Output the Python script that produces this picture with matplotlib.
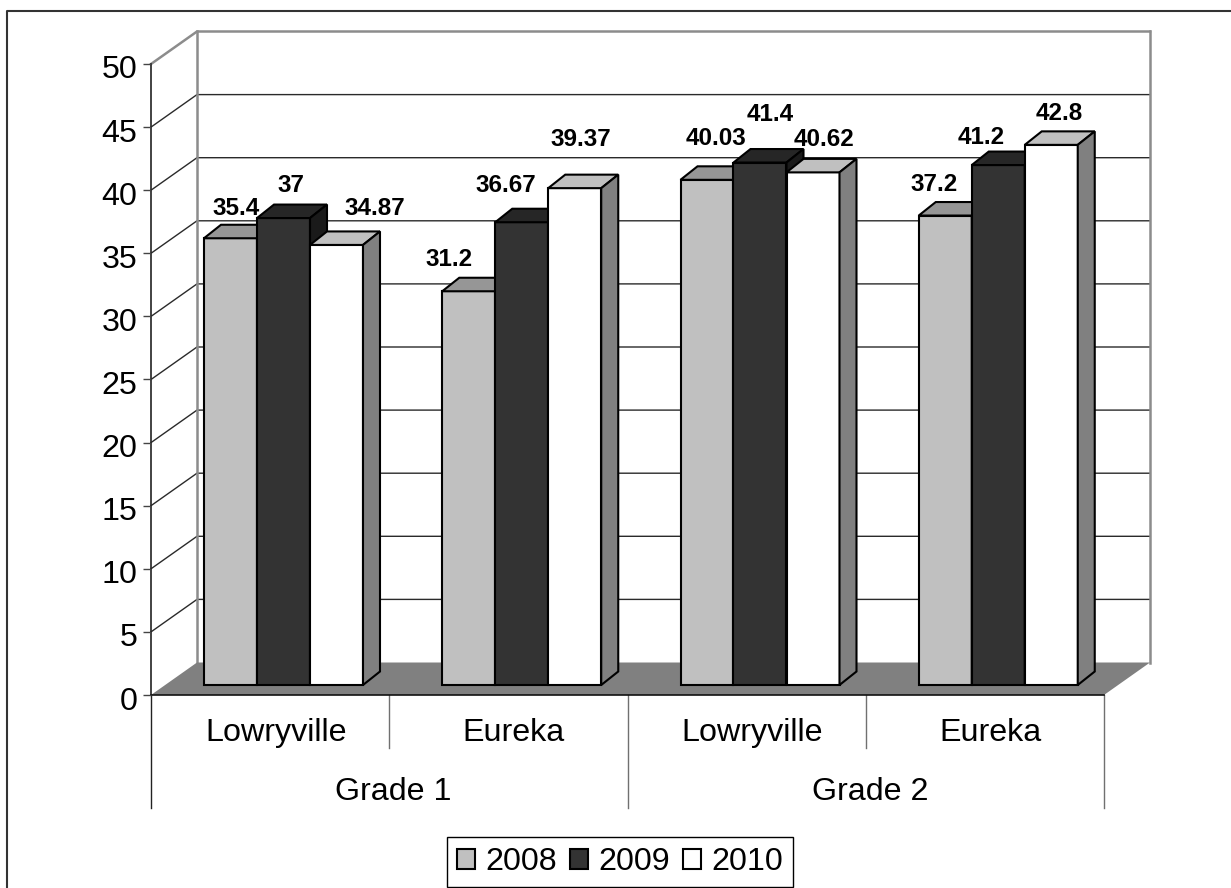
import matplotlib
matplotlib.use('Agg')
import matplotlib.pyplot as plt
from matplotlib.lines import Line2D
from matplotlib.patches import Patch
from matplotlib.transforms import Affine2D

plt.rcParams['font.family'] = ['Liberation Sans', 'DejaVu Sans']

schools = ['Lowryville', 'Eureka', 'Lowryville', 'Eureka']
grades = ['Grade 1', 'Grade 2']
years = ['2008', '2009', '2010']
v2008 = [35.4, 31.2, 40.03, 37.2]
v2009 = [37, 36.67, 41.4, 41.2]
v2010 = [34.87, 39.37, 40.62, 42.8]
yticks = [0, 5, 10, 15, 20, 25, 30, 35, 40, 45, 50]

# front, top, side colors for each series
colors = {
    '2008': ('#c0c0c0', '#969696', '#808080'),
    '2009': ('#333333', '#262626', '#1a1a1a'),
    '2010': ('#ffffff', '#c0c0c0', '#808080'),
}
# label shift from the bar top, pixels, same order as the values
label_shift = {
    '2008': [(-3, 30), (-28, 32), (1, 41), (-20, 31)],
    '2009': [(-1, 33), (-24, 37), (2, 48), (-26, 28)],
    '2010': [(30, 36), (-2, 49), (3, 33), (0, 31)],
}

W, H = 1231, 888
fig = plt.figure(figsize=(W / 100, H / 100), dpi=100)
fig.patch.set_facecolor('white')

# frame around the chart, runs off the picture on the right and at the bottom
fig.add_artist(Line2D([7 / W, 7 / W, 1], [0, 1 - 11 / H, 1 - 11 / H], transform=fig.transFigure,
                      color='#333333', lw=1.5))

# axes is the front plane of the 3d box
x0, x1, y0, y1 = 151, 1104, 695, 64
ax = fig.add_axes([x0 / W, 1 - y0 / H, (x1 - x0) / W, (y0 - y1) / H])
ax.set_xlim(0, 4)
ax.set_ylim(0, 50)
ax.patch.set_alpha(0)
px = 4 / (x1 - x0)
py = 50 / (y0 - y1)

# depth of the box and of the bars, in data units
box_dx, box_dy = 46 * px, 32.5 * py
bar_dx, bar_dy = 17 * px, 13.5 * py
bar_w = 53 * px
base = 10 * py

# floor
ax.fill([0, 4, 4 + box_dx, box_dx], [0, 0, box_dy, box_dy], color='#808080', lw=0, clip_on=False, zorder=1)

# walls and grid
for t in yticks[1:]:
    c, lw = ('#8c8c8c', 1.8) if t == 50 else ('#2a2a2a', 1.0)
    ax.plot([0, box_dx, 4 + box_dx], [t, t + box_dy, t + box_dy], color=c, lw=lw, clip_on=False, zorder=0.5)
ax.plot([box_dx, box_dx], [box_dy, 50 + box_dy], color='#8c8c8c', lw=1.8, clip_on=False, zorder=0.6)
ax.plot([4 + box_dx, 4 + box_dx], [box_dy, 50 + box_dy], color='#8c8c8c', lw=1.8, clip_on=False, zorder=0.6)

# bars, left to right so each one hides the side of the one before
series = {'2008': v2008, '2009': v2009, '2010': v2010}
z = 2
for g in range(len(schools)):
    start = g + bar_w
    for j, year in enumerate(years):
        val = series[year][g]
        front, top, side = colors[year]
        l = start + j * bar_w
        r = l + bar_w
        style = dict(ec='black', lw=1.5, clip_on=False, joinstyle='miter', zorder=z)
        ax.fill([l, r, r, l], [base, base, base + val, base + val], fc=front, **style)
        ax.fill([l, r, r + bar_dx, l + bar_dx],
                [base + val, base + val, base + val + bar_dy, base + val + bar_dy], fc=top, **style)
        ax.fill([r, r + bar_dx, r + bar_dx, r],
                [base, base + bar_dy, base + val + bar_dy, base + val], fc=side, **style)
        z += 0.1
        sx, sy = label_shift[year][g]
        ax.annotate(str(val), ((l + r) / 2 + bar_dx / 2, base + val), xytext=(sx, sy),
                    textcoords='offset pixels', ha='center', va='center',
                    fontsize=17.5, fontweight='bold', color='black', zorder=20)

# value axis
ax.set_yticks(yticks)
ax.set_yticklabels([str(t) for t in yticks])
ax.tick_params(axis='y', length=5.8, width=1.0, labelsize=23.2, pad=4, color='#444444')
for lab in ax.get_yticklabels():
    lab.set_transform(lab.get_transform() + Affine2D().translate(0, -3))
ax.set_xticks([])
for s in ['top', 'right']:
    ax.spines[s].set_visible(False)
ax.spines['left'].set_color('#222222')
ax.spines['bottom'].set_color('#111111')
ax.spines['left'].set_linewidth(1.2)
ax.spines['bottom'].set_linewidth(1.2)
ax.spines['left'].set_zorder(1.5)
ax.spines['bottom'].set_zorder(1.5)

# two level category axis
trans = ax.get_xaxis_transform()
low1 = -53 / (y0 - y1)
low2 = -113 / (y0 - y1)
for i in range(5):
    bottom = low2 if i % 2 == 0 else low1
    c = '#222222' if i == 0 else '#707070'
    ax.plot([i, i], [0, bottom], color=c, lw=1.0, transform=trans, clip_on=False, zorder=1.5)
# the labels sit a little right of the middle of their cell
for i, name in enumerate(schools):
    ax.text(i + 0.5 + 5.5 * px, -38 / (y0 - y1), name, transform=trans, ha='center', va='center', fontsize=23.2)
for i, name in enumerate(grades):
    ax.text(2 * i + 1 + 4 * px, -97 / (y0 - y1), name, transform=trans, ha='center', va='center', fontsize=23.2)

# legend
handles = [Patch(fc=colors[y][0], ec='black', lw=1.5, label=y) for y in years]
fig.legend(handles=handles, loc='center', bbox_to_anchor=(620 / W, 1 - 862 / H), ncol=3, fontsize=23.2,
           frameon=True, fancybox=False, framealpha=1, edgecolor='black',
           handlelength=0.57, handleheight=0.57, handletextpad=0.31, columnspacing=0.4,
           borderpad=0.3, borderaxespad=0)

fig.savefig('out.png', dpi=100)
